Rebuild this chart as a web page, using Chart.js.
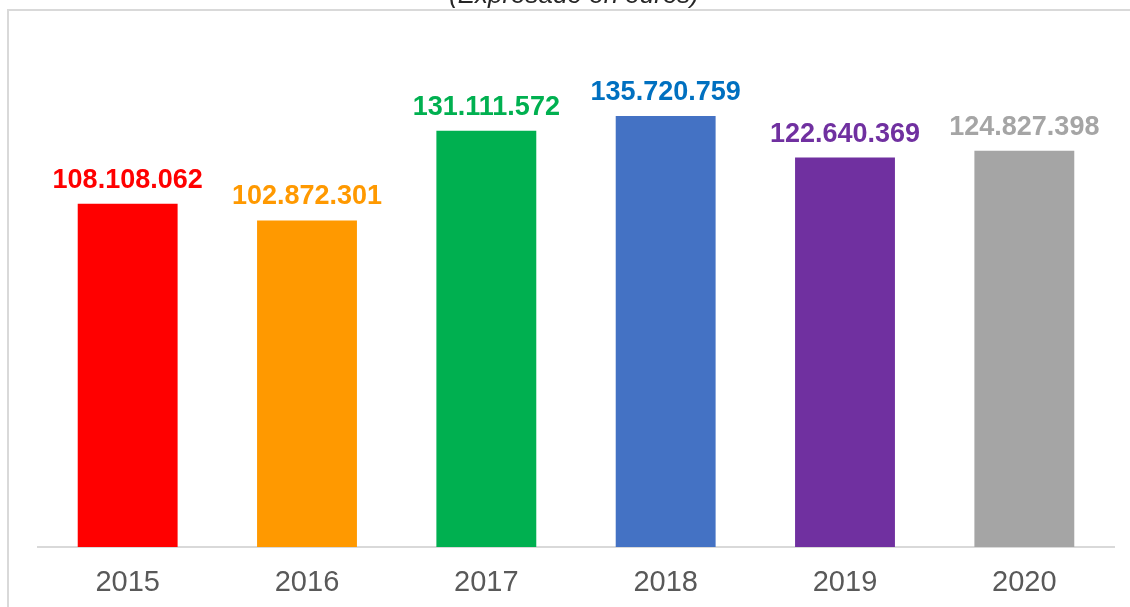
<!DOCTYPE html>
<html>
<head>
<meta charset="utf-8">
<script src="https://cdn.jsdelivr.net/npm/chart.js@4.4.0/dist/chart.umd.min.js"></script>
<style>
  html, body { margin: 0; padding: 0; background: #ffffff; }
  #wrap { width: 1130px; height: 607px; position: relative; }
</style>
</head>
<body>
<div id="wrap"><canvas id="chart"></canvas></div>
<script>
// datos
const aYears = ["2015", "2016", "2017", "2018", "2019", "2020"];
const aValues = [108108062, 102872301, 131111572, 135720759, 122640369, 124827398];
const aBarColors = ["#FF0000", "#FF9900", "#00B050", "#4472C4", "#7030A0", "#A5A5A5"];
const aLabelColors = ["#FF0000", "#FF9900", "#00B050", "#0070C0", "#7030A0", "#A5A5A5"];
const sTitle = "(Expresado en euros)";

const FONT = "'Liberation Sans', Arial, sans-serif";

// formato 108.108.062
function formatEuro(v) {
  return String(v).replace(/\B(?=(\d{3})+(?!\d))/g, ".");
}

// marco + titulo
const framePlugin = {
  id: "frame",
  beforeDraw(chart) {
    const ctx = chart.ctx;
    ctx.save();
    ctx.fillStyle = "#ffffff";
    ctx.fillRect(0, 0, chart.width, chart.height);
    ctx.strokeStyle = "#D9D9D9";
    ctx.lineWidth = 2;
    ctx.beginPath();
    ctx.moveTo(8, chart.height + 5);
    ctx.lineTo(8, 10);
    ctx.lineTo(chart.width + 5, 10);
    ctx.stroke();
    ctx.fillStyle = "#262626";
    ctx.font = "italic 26px " + FONT;
    ctx.textAlign = "center";
    ctx.textBaseline = "alphabetic";
    ctx.fillText(sTitle, 574, 3);
    ctx.restore();
  }
};

// etiquetas de valor sobre las barras
const valueLabelPlugin = {
  id: "valueLabels",
  afterDatasetsDraw(chart) {
    const ctx = chart.ctx;
    const meta = chart.getDatasetMeta(0);
    ctx.save();
    ctx.font = "bold 27px " + FONT;
    ctx.textAlign = "center";
    ctx.textBaseline = "alphabetic";
    meta.data.forEach((bar, i) => {
      ctx.fillStyle = aLabelColors[i];
      ctx.fillText(formatEuro(aValues[i]), bar.x, bar.y - 16);
    });
    ctx.restore();
  }
};

const ctx = document.getElementById("chart").getContext("2d");
new Chart(ctx, {
  type: "bar",
  data: {
    labels: aYears,
    datasets: [{
      data: aValues,
      backgroundColor: aBarColors,
      borderWidth: 0,
      categoryPercentage: 1,
      barPercentage: 0.557
    }]
  },
  options: {
    responsive: true,
    maintainAspectRatio: false,
    animation: false,
    devicePixelRatio: 1,
    layout: {
      padding: { top: 39, bottom: 8, left: 38, right: 16 }
    },
    plugins: {
      legend: { display: false },
      tooltip: { enabled: false },
      title: { display: false }
    },
    scales: {
      x: {
        grid: { display: false, drawTicks: false },
        border: { display: true, color: "#D9D9D9", width: 2 },
        ticks: {
          color: "#595959",
          padding: 19,
          font: { family: FONT, size: 29 }
        },
        afterFit: function (scale) {
          // alto fijo del eje para que la linea base quede en y=547
          scale.height = 52;
        }
      },
      y: {
        display: false,
        min: 0,
        max: 160000000
      }
    }
  },
  plugins: [framePlugin, valueLabelPlugin]
});
</script>
</body>
</html>
